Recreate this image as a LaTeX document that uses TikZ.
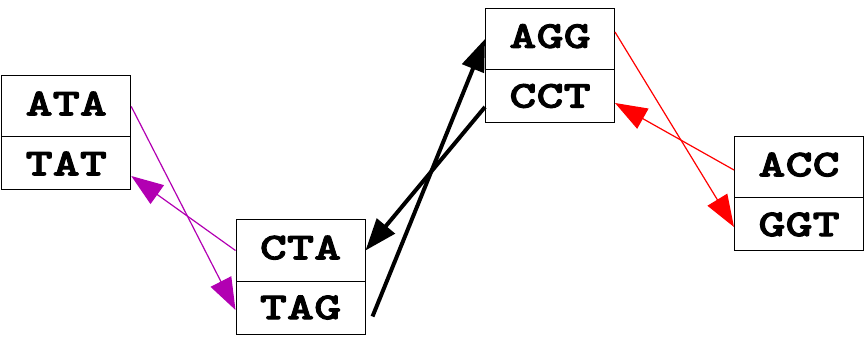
\documentclass[tikz,border=0pt]{standalone}
\usepackage{fontspec}
\newfontfamily\dnafont{lmmonolt10-bold}[Extension=.otf,FakeStretch=1.36,FakeBold=2.5]
\usetikzlibrary{arrows.meta,calc}
\definecolor{purp}{RGB}{178,0,178}
\tikzset{
  cell/.style={draw=black,line width=1pt,minimum width=129pt,inner sep=0pt,
    font=\fontsize{38}{38}\selectfont\dnafont},
  topcell/.style={cell,minimum height=61pt,text depth=6pt},
  botcell/.style={cell,minimum height=53pt},
  tip/.style={-{Triangle[length=32pt,width=23pt]}},
  thin/.style={tip,line width=1.2pt},
  thick/.style={tip,line width=4pt,black},
}
\begin{document}
\begin{tikzpicture}[x=1pt,y=-1pt]
\useasboundingbox (0,0) rectangle (865,339);
% boxes
\node[topcell] (ata) at (66.25,106.5) {ATA};
\node[botcell] (tat) at (66.25,163.5) {TAT};
\node[topcell] (cta) at (300.5,250.5) {CTA};
\node[botcell] (tag) at (300.5,307.5) {TAG};
\node[topcell] (agg) at (550,39) {AGG};
\node[botcell] (cct) at (550,96) {CCT};
\node[topcell] (acc) at (799,167.5) {ACC};
\node[botcell] (ggt) at (799,224.5) {GGT};
% purple
\draw[thin,purp] (ata.east) -- ($(tag.west)+(0,2.5)$);
\draw[thin,purp] (cta.west) -- ($(tat.east)+(0,12.5)$);
% red
\draw[thin,red] ($(agg.east)+(0,-7)$) -- ($(ggt.west)+(0,2.5)$);
\draw[thin,red] ($(acc.west)+(0,2.5)$) -- ($(cct.east)+(0,7)$);
% black
\draw[thick] ($(tag.east)+(7,9)$) -- (agg.west);
\draw[thick] ($(cct.west)+(0,11)$) -- (cta.east);
\end{tikzpicture}
\end{document}
